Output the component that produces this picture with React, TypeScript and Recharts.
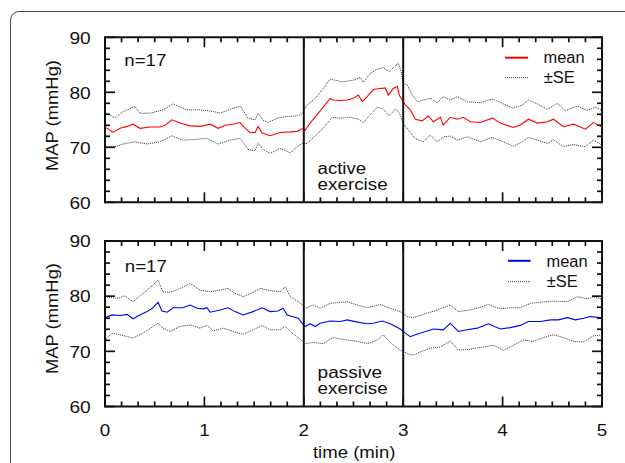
import React from 'react';
import { LineChart, Line, XAxis, YAxis, ReferenceLine, ReferenceArea } from 'recharts';

const FONT = '"Liberation Sans", Arial, Helvetica, sans-serif';
const INK = '#111';

// ---- axes (time in seconds, shown in minutes) ----
const xTickSeconds = [0, 10, 20, 30, 40, 50, 60, 70, 80, 90, 100, 110, 120, 130, 140, 150, 160, 170, 180, 190, 200, 210, 220, 230, 240, 250, 260, 270, 280, 290, 300];
const xTickLabels = ['0', '1', '2', '3', '4', '5'];
const yTicks = [60, 62, 64, 66, 68, 70, 72, 74, 76, 78, 80, 82, 84, 86, 88, 90];
const yTickLabels = ['60', '70', '80', '90'];
const exerciseStart = 120;
const exerciseEnd = 180;

// ---- active exercise panel ----
const activeMeanTime = [0, 4.8, 9.1, 13.3, 16.9, 21.1, 27.2, 33.2, 36.3, 40.5, 45.3, 51.4, 57.4, 63.4, 68.3, 72.5, 77.3, 81.6, 84.6, 87.6, 90.6, 92.4, 94.9, 99.7, 105.7, 111.8, 116, 119.6, 120.8, 123.8, 127.9, 131.7, 135.9, 137.8, 142, 146.2, 149.8, 152.9, 155.3, 158.3, 161.9, 166.2, 169.2, 171, 174, 176.4, 177.6, 179.4, 181.3, 184.3, 187.3, 191.5, 195.2, 198.2, 202.4, 204.2, 208.4, 212.7, 216.3, 220.5, 226.6, 233.8, 238.7, 246.5, 250.7, 255.6, 261, 267.1, 270.7, 276.7, 282.8, 290, 294.8, 300];
const activeMean = [73.7, 72.7, 73.45, 73.8, 74.2, 73.45, 73.7, 73.7, 74.0, 75.0, 74.4, 73.9, 73.8, 74.2, 73.45, 74.0, 74.2, 74.5, 73.45, 72.7, 72.7, 73.8, 72.6, 72.1, 72.7, 72.8, 72.9, 73.45, 73.1, 74.4, 75.9, 77.3, 78.9, 78.6, 78.5, 78.6, 78.9, 79.5, 78.3, 79.2, 80.5, 80.7, 80.8, 79.5, 80.7, 81.1, 79.5, 78.6, 77.7, 76.8, 75.1, 74.8, 75.7, 74.65, 75.45, 74.05, 75.45, 75.1, 75.45, 74.65, 74.5, 75.3, 74.4, 73.6, 74.05, 75.1, 74.4, 74.65, 75.1, 73.75, 74.2, 73.3, 74.5, 73.75];

const activeUpperTime = [0, 6, 10.9, 18.1, 21.1, 27.2, 35, 41.1, 49.5, 57.4, 65.3, 69.5, 77.3, 81.6, 86.4, 90.6, 92.4, 95.5, 98.5, 103.9, 110, 116, 119, 122, 126.9, 131.7, 135.9, 140.2, 143.8, 149.8, 154.1, 155.9, 160.1, 164.3, 168, 171.6, 175.2, 177, 178.8, 180, 182.5, 185.5, 188.5, 192.1, 196.4, 200.6, 204.2, 208.4, 212.7, 218.7, 226.6, 233.8, 240.5, 246.5, 252, 255.6, 261, 267.1, 273.1, 277.9, 285.2, 291.2, 296, 300];
const activeUpper = [76.5, 75.3, 76.5, 77.4, 76.2, 76.2, 76.8, 77.9, 76.8, 76.8, 76.5, 76.2, 77.1, 77.5, 75.3, 75.0, 76.2, 74.9, 74.5, 75.3, 75.6, 75.7, 76.1, 77.7, 78.9, 80.7, 82.4, 82.1, 81.9, 82.2, 82.7, 81.8, 83.45, 84.2, 84.5, 83.75, 84.8, 85.3, 83.75, 81.6, 81.3, 79.5, 78.3, 78.6, 78.9, 78.1, 79.2, 78.6, 79.2, 78.3, 78.1, 78.8, 77.9, 77.1, 77.7, 78.6, 77.9, 76.9, 78.0, 76.65, 77.5, 76.7, 77.3, 76.65];

const activeLowerTime = [0, 6, 10.9, 18.1, 25.4, 33.2, 40.5, 46.5, 53.2, 61.6, 68.3, 75.5, 81.6, 86.4, 90.6, 92.4, 95.5, 99.7, 105.7, 111.8, 116, 119, 122, 126.9, 131.7, 137.2, 142, 148, 152.9, 155.9, 160.1, 164.3, 168, 171.6, 175.2, 177.6, 180, 183.1, 187.3, 192.1, 196.4, 200.6, 204.2, 208.4, 212.7, 218.7, 226.6, 233.8, 240.5, 246.5, 252, 255.6, 261, 267.1, 270.7, 276.7, 282.8, 290, 294.8, 300];
const activeLower = [70.1, 70.1, 70.6, 71.0, 70.6, 71.0, 72.1, 71.3, 71.4, 71.6, 70.6, 71.3, 71.6, 69.6, 69.4, 70.7, 69.6, 68.9, 69.8, 69.0, 70.1, 70.7, 70.7, 72.05, 73.45, 75.45, 75.3, 75.45, 75.1, 74.5, 75.9, 77.3, 76.95, 75.7, 76.95, 76.3, 74.4, 73.1, 71.6, 71.0, 72.2, 71.0, 71.9, 72.05, 71.3, 71.9, 71.0, 71.8, 71.0, 70.2, 71.0, 71.8, 71.3, 70.7, 71.4, 70.1, 70.5, 70.1, 71.3, 70.4];

// ---- passive exercise panel ----
const passiveMeanTime = [0, 4.2, 9.1, 13.3, 16.9, 21.1, 25.4, 29, 32, 34.4, 37.5, 41.1, 47.1, 51.4, 55.6, 59.2, 61.6, 63.4, 69.5, 74.3, 78.5, 83.4, 89.4, 94.9, 99.7, 104.5, 107.5, 110, 113, 116.6, 119.6, 120.8, 123.8, 126.9, 129.9, 135.9, 142, 146.2, 152.3, 158.3, 161.9, 167.4, 172.2, 178.2, 181.3, 184.3, 187.3, 192.1, 198.2, 204.2, 208.4, 213.3, 218.7, 224.8, 231.4, 238.7, 244.7, 250.7, 255.6, 262.8, 268.9, 273.7, 279.1, 284, 288.8, 293, 300];
const passiveMean = [76.1, 76.6, 76.5, 76.7, 75.9, 76.6, 77.2, 77.9, 78.9, 77.3, 77.1, 77.9, 77.9, 78.4, 77.8, 77.7, 77.9, 77.1, 77.5, 77.9, 77.2, 76.6, 77.2, 77.9, 77.2, 77.3, 77.8, 76.6, 76.3, 76.0, 74.9, 74.5, 75.0, 74.5, 75.1, 75.5, 75.4, 75.7, 75.3, 75.0, 75.1, 75.5, 75.0, 74.05, 73.3, 72.65, 73.0, 73.45, 74.05, 73.9, 75.1, 73.6, 73.9, 74.2, 75.0, 74.05, 74.3, 74.7, 75.4, 75.4, 75.7, 75.7, 76.1, 75.7, 76.0, 76.3, 76.1];

const passiveUpperTime = [0, 7.3, 12.1, 16.9, 23, 29, 32, 35, 39.3, 45.3, 51.4, 57.4, 63.4, 69.5, 74.3, 78.5, 83.4, 89.4, 93.7, 99.7, 105.7, 108.8, 111.8, 117.8, 120.8, 125.7, 129.9, 135.9, 146.2, 152.3, 158.3, 166.2, 172.2, 178.2, 182.5, 186.1, 192.1, 200.6, 208.4, 213.3, 220.5, 226.6, 231.4, 238.7, 244.7, 250.7, 256.8, 262.8, 270.7, 279.1, 285.2, 291.2, 294.8, 300];
const passiveUpper = [79.9, 79.6, 80.05, 79.0, 80.5, 82.0, 82.9, 80.8, 80.7, 81.4, 82.3, 81.1, 80.8, 81.1, 81.4, 80.5, 79.9, 80.7, 81.4, 81.0, 80.8, 81.7, 79.9, 78.8, 77.8, 78.4, 77.8, 78.7, 79.0, 78.4, 77.9, 78.5, 77.8, 77.2, 76.3, 76.1, 76.7, 77.5, 78.4, 77.2, 77.5, 78.0, 78.5, 77.7, 77.9, 77.9, 78.7, 78.9, 79.1, 79.0, 79.9, 79.5, 79.9, 79.5];

const passiveLowerTime = [0, 4.2, 9.1, 16.9, 23, 29, 32, 35, 39.3, 45.3, 51.4, 57.4, 61.6, 65.3, 71.3, 77.3, 83.4, 89.4, 94.9, 99.7, 105.7, 108.8, 113, 117.8, 120.8, 125.7, 131.7, 137.8, 146.2, 152.3, 158.3, 164.3, 168, 172.2, 178.2, 182.5, 186.1, 190.3, 196.4, 202.4, 208.4, 213.3, 220.5, 228.4, 234.4, 240.5, 246.5, 252.6, 258.6, 264.6, 270.7, 276.7, 282.8, 288.8, 294.8, 300];
const passiveLower = [72.05, 73.3, 73.0, 72.4, 73.3, 74.5, 75.1, 74.2, 73.6, 74.5, 74.8, 74.2, 74.7, 73.7, 74.2, 73.6, 73.1, 73.9, 74.7, 73.9, 73.9, 74.5, 73.3, 72.2, 71.4, 71.6, 71.4, 72.5, 72.05, 71.8, 71.4, 72.05, 73.0, 71.6, 70.2, 69.6, 69.3, 69.9, 70.55, 70.8, 71.9, 70.2, 70.4, 70.8, 71.1, 70.2, 71.1, 72.05, 71.8, 72.5, 73.0, 72.5, 71.8, 71.7, 72.8, 73.0];

const toPoints = (t: number[], v: number[]) => t.map((ti, i) => ({ t: ti, v: v[i] }));

const BottomTick = (props: any) => {
  const { x, y, payload, showLabel } = props;
  const major = payload.value % 60 === 0;
  return (
    <g>
      <line x1={x} x2={x} y1={y} y2={y - (major ? 10 : 5)} stroke={INK} strokeWidth={1.7} />
      {showLabel && major ? (
        <text x={x} y={y + 29.2} textAnchor="middle" fontFamily={FONT} fontSize={16.5} fill={INK}
          textLength={10.5} lengthAdjust="spacingAndGlyphs">
          {xTickLabels[payload.value / 60]}
        </text>
      ) : null}
    </g>
  );
};

const TopTick = (props: any) => {
  const { x, y, payload } = props;
  const major = payload.value % 60 === 0;
  return <line x1={x} x2={x} y1={y} y2={y + (major ? 10 : 5)} stroke={INK} strokeWidth={1.7} />;
};

const LeftTick = (props: any) => {
  const { x, y, payload } = props;
  const major = payload.value % 10 === 0;
  return (
    <g>
      <line x1={x} x2={x + (major ? 10 : 5)} y1={y} y2={y} stroke={INK} strokeWidth={1.7} />
      {major ? (
        <text x={x - 14.3} y={y + 6.2} textAnchor="end" fontFamily={FONT} fontSize={16.3} fill={INK}
          textLength={21.3} lengthAdjust="spacingAndGlyphs">
          {yTickLabels[(payload.value - 60) / 10]}
        </text>
      ) : null}
    </g>
  );
};

const RightTick = (props: any) => {
  const { x, y, payload } = props;
  const major = payload.value % 10 === 0;
  return <line x1={x} x2={x - (major ? 10 : 5)} y1={y} y2={y} stroke={INK} strokeWidth={1.7} />;
};

type PanelProps = {
  top: number;
  height: number;
  plotTop: number;
  plotBottom: number;
  mean: { t: number; v: number }[];
  upper: { t: number; v: number }[];
  lower: { t: number; v: number }[];
  color: string;
  showXLabels: boolean;
};

// plot area: x from 105 to 602; axes take 1px each, so margins are reduced by 1
const Panel = ({ top, height, plotTop, plotBottom, mean, upper, lower, color, showXLabels }: PanelProps) => (
  <div style={{ position: 'absolute', left: 0, top, width: 625, height }}>
    <LineChart width={625} height={height}
      margin={{ top: plotTop - 1, right: 625 - 602 - 1, bottom: height - plotBottom - 1, left: 105 - 1 }}>
      <XAxis dataKey="t" type="number" domain={[0, 300]} allowDataOverflow ticks={xTickSeconds} interval={0}
        height={1} tickSize={0} tickMargin={0} tickLine={false} axisLine={false}
        tick={(p: any) => <BottomTick {...p} showLabel={showXLabels} />} />
      <XAxis xAxisId="top" orientation="top" dataKey="t" type="number" domain={[0, 300]} allowDataOverflow
        ticks={xTickSeconds} interval={0} height={1} tickSize={0} tickMargin={0} tickLine={false} axisLine={false}
        tick={(p: any) => <TopTick {...p} />} />
      <YAxis type="number" domain={[60, 90]} allowDataOverflow ticks={yTicks} interval={0} width={1}
        tickSize={0} tickMargin={0} tickLine={false} axisLine={false} tick={(p: any) => <LeftTick {...p} />} />
      <YAxis yAxisId="right" orientation="right" type="number" domain={[60, 90]} allowDataOverflow ticks={yTicks}
        interval={0} width={1} tickSize={0} tickMargin={0} tickLine={false} axisLine={false}
        tick={(p: any) => <RightTick {...p} />} />
      <Line data={upper} dataKey="v" type="linear" dot={false} activeDot={false} stroke="#333" strokeWidth={1}
        strokeDasharray="1 1" isAnimationActive={false} />
      <Line data={lower} dataKey="v" type="linear" dot={false} activeDot={false} stroke="#333" strokeWidth={1}
        strokeDasharray="1 1" isAnimationActive={false} />
      <Line data={mean} dataKey="v" type="linear" dot={false} activeDot={false} stroke={color} strokeWidth={1.1}
        isAnimationActive={false} />
      <ReferenceLine x={exerciseStart} stroke={INK} strokeWidth={2} />
      <ReferenceLine x={exerciseEnd} stroke={INK} strokeWidth={2} />
      <ReferenceArea x1={0} x2={300} y1={60} y2={90} fill="none" fillOpacity={0} stroke={INK} strokeWidth={2} />
    </LineChart>
  </div>
);

const T = (p: any) => (
  <text fontFamily={FONT} fill={INK} lengthAdjust="spacingAndGlyphs" {...p} />
);

export default function App() {
  return (
    <div style={{ position: 'absolute', left: 0, top: 0, width: 625, height: 463, overflow: 'hidden', background: '#fff' }}>
      <div style={{ position: 'absolute', left: 10, top: 11, width: 660, height: 520, border: '1.3px solid #4a4a4a', borderRadius: 9 }} />
      <Panel top={0} height={225} plotTop={37.3} plotBottom={202.3}
        mean={toPoints(activeMeanTime, activeMean)} upper={toPoints(activeUpperTime, activeUpper)}
        lower={toPoints(activeLowerTime, activeLower)} color="#ff0000" showXLabels={false} />
      <Panel top={225} height={238} plotTop={16} plotBottom={181.5}
        mean={toPoints(passiveMeanTime, passiveMean)} upper={toPoints(passiveUpperTime, passiveUpper)}
        lower={toPoints(passiveLowerTime, passiveLower)} color="#0000ff" showXLabels={true} />
      <svg width={625} height={463} style={{ position: 'absolute', left: 0, top: 0, pointerEvents: 'none' }}>
        {/* y axis titles */}
        <T transform="translate(58.3,115.5) rotate(-90)" textAnchor="middle" fontSize={16.5} textLength={111}>MAP (mmHg)</T>
        <T transform="translate(58.3,318.5) rotate(-90)" textAnchor="middle" fontSize={16.5} textLength={111}>MAP (mmHg)</T>
        {/* x axis title */}
        <T x={354.2} y={458.3} textAnchor="middle" fontSize={16.5} textLength={82.5}>time (min)</T>
        {/* n labels */}
        <T x={124.3} y={66.3} fontSize={16} textLength={42}>n=17</T>
        <T x={124.8} y={272.3} fontSize={16} textLength={42}>n=17</T>
        {/* exercise labels */}
        <T x={317.6} y={174} fontSize={16} textLength={48.5}>active</T>
        <T x={317.6} y={190} fontSize={16} textLength={70}>exercise</T>
        <T x={317.6} y={378.3} fontSize={16} textLength={64.5}>passive</T>
        <T x={317.6} y={394.3} fontSize={16} textLength={70}>exercise</T>
        {/* legend top */}
        <line x1={505} x2={528} y1={57.7} y2={57.7} stroke="#ff0000" strokeWidth={2} />
        <line x1={505} x2={528} y1={77.7} y2={77.7} stroke="#333" strokeWidth={1} strokeDasharray="1 1" />
        <T x={543.5} y={63.3} fontSize={16} textLength={41}>mean</T>
        <T x={543.8} y={82.7} fontSize={16} textLength={31}>±SE</T>
        {/* legend bottom */}
        <line x1={508} x2={530.5} y1={260.8} y2={260.8} stroke="#0000ff" strokeWidth={2} />
        <line x1={508} x2={530.5} y1={281.7} y2={281.7} stroke="#333" strokeWidth={1} strokeDasharray="1 1" />
        <T x={546.5} y={266.7} fontSize={16} textLength={41}>mean</T>
        <T x={546.8} y={286.7} fontSize={16} textLength={31}>±SE</T>
      </svg>
    </div>
  );
}
